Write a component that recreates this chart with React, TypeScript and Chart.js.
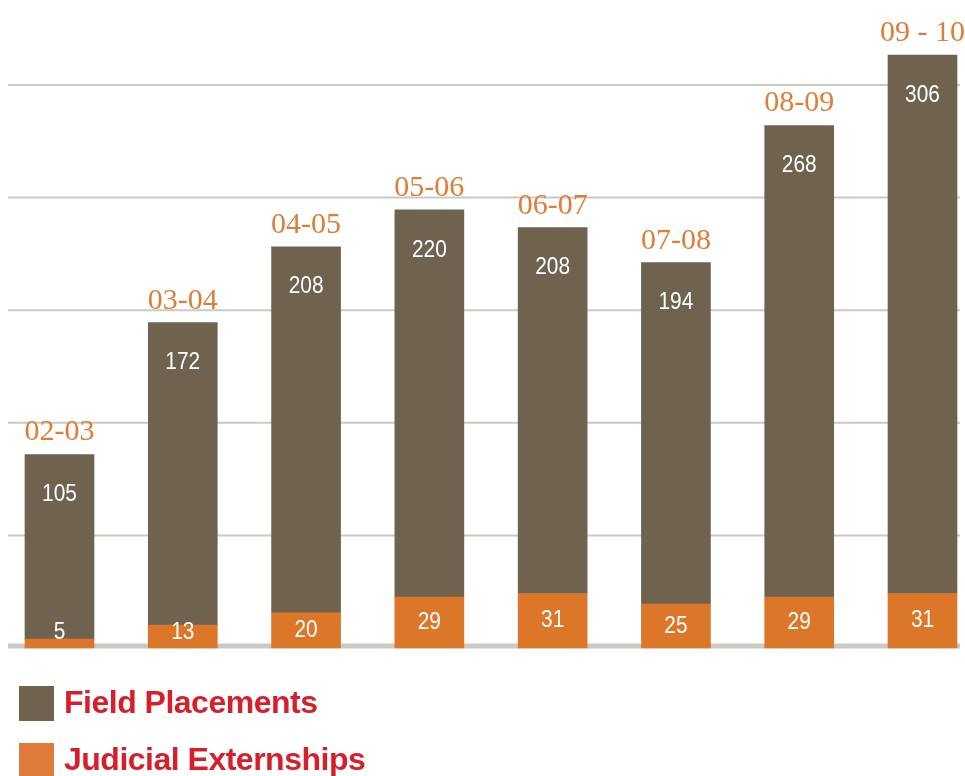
import React, { useEffect, useRef } from "react";
import { Chart, registerables } from "chart.js";

Chart.register(...registerables);

// ---- data ----
const categories = ["02-03", "03-04", "04-05", "05-06", "06-07", "07-08", "08-09", "09 - 10"];
const fieldPlacements = [105, 172, 208, 220, 208, 194, 268, 306];
const judicialExternships = [5, 13, 20, 29, 31, 25, 29, 31];
const seriesNames = ["Field Placements", "Judicial Externships"];
const yMin = 0;
const yMax = 320;
const yStep = 64;

// ---- styles ----
const BROWN = "#6f6350";
const ORANGE = "#dc7628";
const LEGEND_ORANGE = "#e07b39";
const LABEL_ORANGE = "#e07d37";
const RED = "#d71f2b";
const GRID = "#cacac5";

const gridPlugin = {
  id: "fullGrid",
  beforeDatasetsDraw(chart: any) {
    const { ctx } = chart;
    const y = chart.scales.y;
    const values: number[] =
      y.ticks && y.ticks.length
        ? y.ticks.map((t: any) => t.value)
        : Array.from({ length: Math.round((yMax - yMin) / yStep) + 1 }, (_, i) => yMin + i * yStep);
    ctx.save();
    ctx.strokeStyle = GRID;
    values.forEach((v) => {
      const py = y.getPixelForValue(v);
      ctx.beginPath();
      if (v === yMin) {
        ctx.lineWidth = 5;
        ctx.moveTo(8, py - 2);
        ctx.lineTo(960, py - 2);
      } else {
        ctx.lineWidth = 2;
        ctx.moveTo(8, py);
        ctx.lineTo(960, py);
      }
      ctx.stroke();
    });
    ctx.restore();
  },
};

function condensedText(ctx: CanvasRenderingContext2D, text: string, x: number, y: number, sx: number) {
  ctx.save();
  ctx.translate(x, y);
  ctx.scale(sx, 1);
  ctx.fillText(text, 0, 0);
  ctx.restore();
}

const labelPlugin = {
  id: "barLabels",
  afterDatasetsDraw(chart: any) {
    const { ctx } = chart;
    const bottomMeta = chart.getDatasetMeta(0);
    const topMeta = chart.getDatasetMeta(1);
    ctx.save();
    ctx.textAlign = "center";
    categories.forEach((cat, i) => {
      const b = bottomMeta.data[i];
      const t = topMeta.data[i];
      if (!b || !t) return;
      // value labels
      ctx.fillStyle = "#ffffff";
      ctx.font = '24px "Liberation Sans", Roboto, sans-serif';
      ctx.textBaseline = "middle";
      condensedText(ctx, String(fieldPlacements[i]), t.x, t.y + 40, 0.87);
      const mid = (b.y + b.base) / 2;
      condensedText(ctx, String(judicialExternships[i]), b.x, Math.min(mid, b.base - 16), 0.87);
      // category label above bar
      ctx.fillStyle = LABEL_ORANGE;
      ctx.font = '30px "Liberation Serif", "DejaVu Serif", serif';
      ctx.textBaseline = "alphabetic";
      ctx.fillText(cat, t.x, t.y - 14);
    });
    ctx.restore();
  },
};

export default function App() {
  const canvasRef = useRef<HTMLCanvasElement | null>(null);

  useEffect(() => {
    if (!canvasRef.current) return;
    const chart = new Chart(canvasRef.current, {
      type: "bar",
      data: {
        labels: categories,
        datasets: [
          {
            label: seriesNames[1],
            data: judicialExternships,
            backgroundColor: ORANGE,
            borderWidth: 0,
            barThickness: 69,
            clip: false as any,
          },
          {
            label: seriesNames[0],
            data: fieldPlacements,
            backgroundColor: BROWN,
            borderWidth: 0,
            barThickness: 69,
            clip: false as any,
          },
        ],
      },
      options: {
        animation: false,
        responsive: false,
        events: [],
        layout: { padding: { left: 59.5, right: 42.5, top: 85, bottom: 128 } },
        plugins: {
          legend: { display: false },
          tooltip: { enabled: false },
        },
        scales: {
          x: {
            type: "category",
            offset: false,
            stacked: true,
            display: false,
            grid: { display: false },
          },
          y: {
            stacked: true,
            display: false,
            min: yMin,
            max: yMax,
            ticks: { stepSize: yStep },
          },
        },
      },
      plugins: [gridPlugin, labelPlugin],
    });
    return () => chart.destroy();
  }, []);

  const legendItems = [
    { name: seriesNames[0], color: BROWN, top: 686 },
    { name: seriesNames[1], color: LEGEND_ORANGE, top: 743 },
  ];

  return (
    <div style={{ position: "fixed", left: 0, top: 0, width: 965, height: 776, background: "#fff", overflow: "hidden" }}>
      <canvas ref={canvasRef} width={965} height={776} style={{ display: "block" }} />
      {legendItems.map((it) => (
        <React.Fragment key={it.name}>
          <div style={{ position: "absolute", left: 19, top: it.top, width: 35, height: 35, background: it.color }} />
          <div
            style={{
              position: "absolute",
              left: 64,
              top: it.top,
              fontFamily: '"Liberation Sans", Arial, sans-serif',
              fontWeight: 700,
              fontSize: 32,
              lineHeight: "32px",
              letterSpacing: "-0.5px",
              color: RED,
              whiteSpace: "nowrap",
            }}
          >
            {it.name}
          </div>
        </React.Fragment>
      ))}
    </div>
  );
}
